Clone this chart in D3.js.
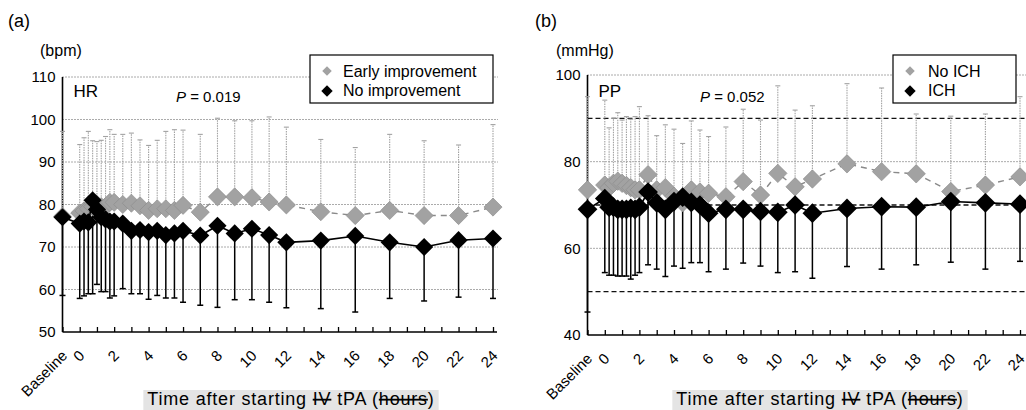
<!DOCTYPE html>
<html>
<head>
<meta charset="utf-8">
<script src="https://cdn.jsdelivr.net/npm/d3@7/dist/d3.min.js"></script>
<style>
    body { margin: 0; background: #fff; }
    svg { display: block; font-family: 'Liberation Sans', Arial, sans-serif; }
</style>
</head>
<body>
<script>
// time points (hours after starting IV tPA)
var times = ['Baseline', 0, 0.25, 0.5, 0.75, 1, 1.25, 1.5, 1.75, 2, 2.5, 3, 3.5, 4, 4.5,
    5, 5.5, 6, 7, 8, 9, 10, 11, 12, 14, 16, 18, 20, 22, 24]
var tickLabels = ['Baseline', '0', '2', '4', '6', '8', '10', '12', '14', '16', '18', '20', '22', '24']

// (a) HR, bpm
var hrEarly = [77.2, 78, 78.5, 79, 79.5, 80, 79.5, 79.5, 80.5, 80.5, 80, 80.3, 79.7, 78.6, 79,
    79, 78.6, 79.8, 78.2, 81.8, 81.8, 81.6, 80.6, 79.9, 78.3, 77.4, 78.6, 77.4, 77.4, 79.4]
var hrEarlyUpper = [97.2, 94.1, 95.7, 97.2, 95, 94.8, 95.1, 96, 97.6, 96.5, 96.5, 96.8, 95.2, 93.9, 95.1,
    97.2, 97.6, 97.5, 96.5, 100.3, 99.7, 99.7, 100.6, 98.2, 95.3, 93.4, 96.5, 95, 94, 98.8]
var hrNone = [77, 75.5, 76, 75.8, 81, 78.8, 77, 76.5, 76, 76, 75.5, 73.8, 74, 73.5, 73.8,
    72.8, 73.2, 73.8, 72.7, 75, 73.2, 74.3, 72.8, 71.1, 71.5, 72.6, 71.1, 70, 71.6, 72]
var hrNoneLower = [58.6, 57.9, 58.5, 59, 59, 61.2, 59.5, 59.5, 58, 58.5, 60.2, 59, 59, 57.7, 58.6,
    58, 58, 57, 56.3, 55.8, 57.6, 57.6, 57, 55.7, 55.5, 54.7, 57.9, 57.3, 58.2, 57.9]

// (b) PP, mmHg
var ppNoIch = [73.5, 74.6, 74, 75, 75.5, 75, 74.5, 74, 73.5, 73.5, 77, 73.5, 74, 72, 70.5,
    73.5, 73, 72.7, 71.9, 75.4, 72.3, 77.3, 74.2, 76, 79.5, 77.7, 77.2, 73.1, 74.6, 76.5]
var ppNoIchUpper = [95, 94.2, 87.8, 90, 91.3, 89.6, 90.4, 89.8, 90.4, 92.7, 90.6, 86, 88.5, 87.5, 84.2,
    89.4, 87.3, 85.8, 88, 92.1, 89.6, 97.5, 91.9, 92.9, 98, 97, 91, 90.5, 91, 95]
var ppIch = [69, 71.5, 69.5, 69.5, 69, 69, 69, 69.2, 69, 69.5, 73, 70.5, 69, 70.8, 71.8,
    70.6, 70, 68.1, 69, 69, 68.5, 68.3, 70, 68.1, 69.2, 69.6, 69.5, 70.8, 70.5, 70.2]
var ppIchLower = [45.3, 54.4, 53.8, 53.8, 53.6, 53.6, 53.6, 52.9, 53.8, 54.4, 56.2, 55.2, 53.5, 55.9, 55.4,
    56.7, 56.7, 54.6, 55.2, 56.6, 55.9, 54.4, 54.6, 53.1, 55.8, 55.2, 56.2, 56.8, 55.2, 57]

var GREY = '#a2a2a2'

function hourOf(t) {
    return t === 'Baseline' ? -1 : +t
}

var svg = d3.select('body')
    .append('svg')
    .attr('width', 1026)
    .attr('height', 410)

function renderPanel(opt) {
    var x = d3.scaleLinear().domain([-1, 24]).range([opt.left, opt.right])
    var y = d3.scaleLinear().domain(opt.yDomain).range([opt.bottom, opt.top])
    var g = svg.append('g').attr('class', 'panel')

    // corner labels
    g.append('text').attr('x', opt.tagX).attr('y', 27).attr('font-size', 18).text(opt.tag)
    g.append('text').attr('x', opt.unitX).attr('y', 56).attr('font-size', 16).text(opt.unit)

    // dotted grid
    g.selectAll('line.grid')
        .data(opt.grid)
        .enter()
        .append('line')
        .attr('class', 'grid')
        .attr('x1', opt.left).attr('x2', opt.gridEnd)
        .attr('y1', d => y(d)).attr('y2', d => y(d))
        .attr('stroke', '#444')
        .attr('stroke-width', 0.9)
        .attr('stroke-dasharray', '1,2')

    // dashed reference lines
    g.selectAll('line.ref')
        .data(opt.refs || [])
        .enter()
        .append('line')
        .attr('class', 'ref')
        .attr('x1', opt.left).attr('x2', opt.gridEnd)
        .attr('y1', d => y(d)).attr('y2', d => y(d))
        .attr('stroke', '#111')
        .attr('stroke-width', 1.3)
        .attr('stroke-dasharray', '5,3')

    // y axis
    var yAxis = d3.axisLeft(y).tickValues(opt.yTicks).tickSize(0).tickPadding(7)
    var yg = g.append('g').attr('transform', 'translate(' + opt.left + ',0)').call(yAxis)
    yg.select('.domain').remove()
    yg.selectAll('text').attr('font-size', 15).attr('font-family', null).attr('fill', '#000')

    // x axis, a tick every hour pointing inward
    var xAxis = d3.axisBottom(x).tickValues(d3.range(-1, 25)).tickSize(-5).tickSizeOuter(0).tickFormat('')
    var xg = g.append('g').attr('transform', 'translate(0,' + opt.bottom + ')').call(xAxis)
    xg.select('.domain').remove()
    xg.selectAll('line').attr('stroke', '#000').attr('stroke-width', 1.3)

    g.append('line')
        .attr('x1', opt.left).attr('x2', opt.left)
        .attr('y1', opt.top).attr('y2', opt.bottom)
        .attr('stroke', '#000').attr('stroke-width', 1.6)
    g.append('line')
        .attr('x1', opt.left).attr('x2', opt.axisEnd)
        .attr('y1', opt.bottom).attr('y2', opt.bottom)
        .attr('stroke', '#000').attr('stroke-width', 1.6)

    g.selectAll('text.xl')
        .data(tickLabels)
        .enter()
        .append('text')
        .attr('class', 'xl')
        .attr('transform', d => 'translate(' + (x(hourOf(d)) + 2) + ',' + (opt.bottom + 21) + ') rotate(-45)')
        .attr('text-anchor', 'end')
        .attr('dy', '0.35em')
        .attr('font-size', 15)
        .text(d => d)

    // x title (the original has struck through "IV" and "hours")
    var title = g.append('text')
        .attr('x', opt.titleX)
        .attr('y', 405)
        .attr('text-anchor', 'middle')
        .attr('font-size', 18)
        .attr('letter-spacing', 0.8)
    title.append('tspan').text('Time after starting ')
    title.append('tspan').attr('text-decoration', 'line-through').text('IV')
    title.append('tspan').text(' tPA (')
    title.append('tspan').attr('text-decoration', 'line-through').text('hours')
    title.append('tspan').text(')')
    var bb = title.node().getBBox()
    g.insert('rect', 'text')
        .attr('x', bb.x - 4).attr('y', bb.y + 1)
        .attr('width', bb.width + 8).attr('height', bb.height + 2)
        .attr('fill', '#e4e4e4')

    // annotations
    g.append('text').attr('x', opt.left + 11).attr('y', 97).attr('font-size', 17).text(opt.name)
    var p = g.append('text').attr('x', opt.pX).attr('y', 102).attr('font-size', 15)
    p.append('tspan').attr('font-style', 'italic').text('P')
    p.append('tspan').text(' = ' + opt.pValue)

    var grey = times.map((t, i) => ({ h: hourOf(t), v: opt.greyMean[i], e: opt.greyErr[i] }))
    var black = times.map((t, i) => ({ h: hourOf(t), v: opt.blackMean[i], e: opt.blackErr[i] }))

    renderWhiskers(g, grey, x, y, GREY, 1.1, '1.5,1', 5)
    renderWhiskers(g, black, x, y, '#000', 1.5, null, 6)

    var line = d3.line().x(d => x(d.h)).y(d => y(d.v))

    g.append('path')
        .datum(grey)
        .attr('d', line)
        .attr('fill', 'none')
        .attr('stroke', '#8a8a8a')
        .attr('stroke-width', 1.4)
        .attr('stroke-dasharray', '6,5')

    var diamond = d3.symbol(d3.symbolSquare, opt.greySize)
    g.selectAll('path.gd')
        .data(grey)
        .enter()
        .append('path')
        .attr('class', 'gd')
        .attr('d', diamond)
        .attr('transform', d => 'translate(' + x(d.h) + ',' + y(d.v) + ') rotate(45)')
        .attr('fill', GREY)
        .attr('stroke', '#8c8c8c')
        .attr('stroke-width', 0.6)

    g.append('path')
        .datum(black)
        .attr('d', line)
        .attr('fill', 'none')
        .attr('stroke', '#000')
        .attr('stroke-width', 1.6)

    var bdiamond = d3.symbol(d3.symbolSquare, opt.blackSize)
    g.selectAll('path.bd')
        .data(black)
        .enter()
        .append('path')
        .attr('class', 'bd')
        .attr('d', bdiamond)
        .attr('transform', d => 'translate(' + x(d.h) + ',' + y(d.v) + ') rotate(45)')
        .attr('fill', '#000')

    // legend
    var lg = g.append('g').attr('transform', 'translate(' + opt.legend[0] + ',' + opt.legend[1] + ')')
    lg.append('rect')
        .attr('width', opt.legend[2]).attr('height', 48)
        .attr('fill', '#fff').attr('stroke', '#000').attr('stroke-width', 1.2)
    lg.append('path')
        .attr('d', d3.symbol(d3.symbolSquare, 45))
        .attr('transform', 'translate(17,16) rotate(45)')
        .attr('fill', GREY)
    lg.append('path')
        .attr('d', d3.symbol(d3.symbolSquare, 65))
        .attr('transform', 'translate(17,36) rotate(45)')
        .attr('fill', '#000')
    lg.append('text').attr('x', opt.legendTextX).attr('y', 22).attr('font-size', 16).text(opt.labels[0])
    lg.append('text').attr('x', opt.legendTextX).attr('y', 41).attr('font-size', 16).text(opt.labels[1])
}

function renderWhiskers(g, pts, x, y, color, width, dash, cap) {
    var wg = g.append('g')
        .attr('stroke', color)
        .attr('stroke-width', width)
    wg.selectAll('line.w')
        .data(pts)
        .enter()
        .append('line')
        .attr('class', 'w')
        .attr('x1', d => x(d.h)).attr('x2', d => x(d.h))
        .attr('y1', d => y(d.v)).attr('y2', d => y(d.e))
        .attr('stroke-dasharray', dash)
    wg.selectAll('line.c')
        .data(pts)
        .enter()
        .append('line')
        .attr('class', 'c')
        .attr('x1', d => x(d.h) - cap / 2).attr('x2', d => x(d.h) + cap / 2)
        .attr('y1', d => y(d.e)).attr('y2', d => y(d.e))
}

renderPanel({
    tag: '(a)', tagX: 8, unit: '(bpm)', unitX: 40,
    left: 62.5, right: 493, top: 77, bottom: 332, gridEnd: 498, axisEnd: 497,
    yDomain: [50, 110], yTicks: [50, 60, 70, 80, 90, 100, 110], grid: [60, 70, 80, 90, 100, 110],
    name: 'HR', pX: 176, pValue: '0.019', titleX: 291,
    greyMean: hrEarly, greyErr: hrEarlyUpper, blackMean: hrNone, blackErr: hrNoneLower,
    greySize: 165, blackSize: 165,
    legend: [310, 55, 183], legendTextX: 33, labels: ['Early improvement', 'No improvement']
})

renderPanel({
    tag: '(b)', tagX: 535, unit: '(mmHg)', unitX: 556,
    left: 587.5, right: 1020, top: 75, bottom: 335, gridEnd: 1026, axisEnd: 1026,
    yDomain: [40, 100], yTicks: [40, 60, 80, 100], grid: [60, 80, 100], refs: [50, 70, 90],
    name: 'PP', pX: 700, pValue: '0.052', titleX: 820,
    greyMean: ppNoIch, greyErr: ppNoIchUpper, blackMean: ppIch, blackErr: ppIchLower,
    greySize: 170, blackSize: 195,
    legend: [893, 55, 123], legendTextX: 35, labels: ['No ICH', 'ICH']
})
</script>
</body>
</html>
